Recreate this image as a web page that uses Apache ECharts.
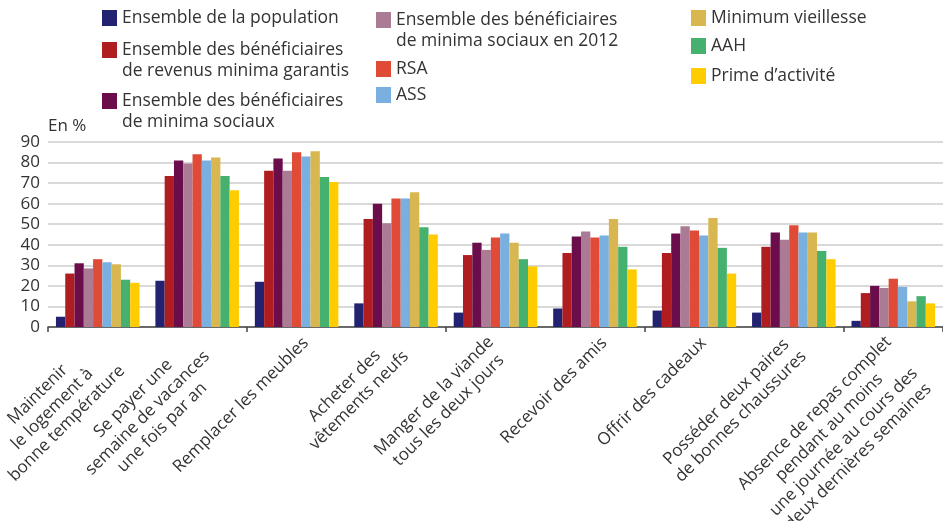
<!DOCTYPE html>
<html>
<head>
<meta charset="utf-8">
<script src="https://cdn.jsdelivr.net/npm/echarts@6/dist/echarts.min.js"></script>
<style>
  html, body { margin: 0; padding: 0; background: #fff; }
  #chart { width: 943px; height: 521px; }
</style>
</head>
<body>
<div id="chart"></div>
<script>
// categories (x axis)
const categories = [
  'Maintenir\nle logement à\nbonne température',
  'Se payer une\nsemaine de vacances\nune fois par an',
  'Remplacer les meubles',
  'Acheter des\nvêtements neufs',
  'Manger de la viande\ntous les deux jours',
  'Recevoir des amis',
  'Offrir des cadeaux',
  'Posséder deux paires\nde bonnes chaussures',
  'Absence de repas complet\npendant au moins\nune journée au cours des\ndeux dernières semaines'
]

const seriesNames = [
  'Ensemble de la population',
  'Ensemble des bénéficiaires de revenus minima garantis',
  'Ensemble des bénéficiaires de minima sociaux',
  'Ensemble des bénéficiaires de minima sociaux en 2012',
  'RSA',
  'ASS',
  'Minimum vieillesse',
  'AAH',
  'Prime d\u2019activité'
]

// values in %
const population  = [5, 22.5, 22, 11.5, 7, 9, 8, 7, 3]
const revenusMin  = [26, 73.5, 76, 52.5, 35, 36, 36, 39, 16.5]
const minimaSoc   = [31, 81, 82, 60, 41, 44, 45.5, 46, 20]
const minima2012  = [28.5, 79.5, 76, 50.5, 37.5, 46.5, 49, 42.5, 19]
const rsa         = [33, 84, 85, 62.5, 43.5, 43.5, 47, 49.5, 23.5]
const ass         = [31.5, 81, 83, 62.5, 45.5, 44.5, 44.5, 46, 19.5]
const minVieil    = [30.5, 82.5, 85.5, 65.5, 41, 52.5, 53, 46, 12.5]
const aah         = [23, 73.5, 73, 48.5, 33, 39, 38.5, 37, 15]
const prime       = [21.5, 66.5, 70.5, 45, 29.5, 28, 26, 33, 11.5]

const allValues = [population, revenusMin, minimaSoc, minima2012, rsa, ass, minVieil, aah, prime]

const colors = ['#232270', '#b01d21', '#6b0d4a', '#ab7a95', '#e04b37', '#79b0e0', '#d8b650', '#46b06e', '#ffcc00']

// legend: label text with line breaks, and where each item sits
const legendLabels = [
  'Ensemble de la population',
  'Ensemble des bénéficiaires\nde revenus minima garantis',
  'Ensemble des bénéficiaires\nde minima sociaux',
  'Ensemble des bénéficiaires\nde minima sociaux en 2012',
  'RSA',
  'ASS',
  'Minimum vieillesse',
  'AAH',
  'Prime d\u2019activité'
]
const legendPlace = [
  [102, 18], [102, 50], [102, 101],
  [376, 20], [376, 69], [376, 95],
  [691, 18], [691, 46], [691, 76]
]

const font = '"Open Sans", "Noto Sans", sans-serif'
const lineH = 21

let legends = seriesNames.map(function (name, i) {
  let lines = legendLabels[i].split('\n')
  let multi = lines.length > 1
  return {
    data: [name],
    left: legendPlace[i][0],
    top: legendPlace[i][1] - (multi ? lineH * 1.5 : lineH / 2),
    padding: 0,
    itemWidth: 15,
    itemHeight: 16,
    icon: 'rect',
    selectedMode: false,
    // an empty first line keeps the swatch level with the first text line
    formatter: function () {
      let txt = lines.map(function (l) { return '{t|' + l + '}' }).join('\n')
      return multi ? '{e|\u00a0}\n' + txt : txt
    },
    textStyle: {
      fontFamily: font,
      fontSize: 17.5,
      color: '#333',
      lineHeight: lineH,
      rich: {
        e: { fontFamily: font, fontSize: 17.5, lineHeight: lineH },
        t: { fontFamily: font, fontSize: 17.5, lineHeight: lineH, color: '#333' }
      }
    }
  }
})

let series = seriesNames.map(function (name, i) {
  return {
    name: name,
    type: 'bar',
    data: allValues[i],
    barGap: 0,
    barCategoryGap: '16%',
    itemStyle: {
      color: colors[i]
    }
  }
})

let option = {
  backgroundColor: '#fff',
  animation: false,
  legend: legends,
  grid: {
    left: 48,
    right: 0,
    top: 142,
    bottom: 194,
    outerBoundsMode: 'none',
    containLabel: false
  },
  xAxis: {
    type: 'category',
    data: categories,
    axisLine: { lineStyle: { color: '#444', width: 1.5 } },
    axisTick: { show: true, alignWithLabel: false, length: 5, lineStyle: { color: '#444', width: 1.5 } },
    // the slanted labels are drawn below, anchored on the axis positions
    axisLabel: { show: false }
  },
  yAxis: {
    type: 'value',
    min: 0,
    max: 90,
    interval: 10,
    axisLine: { show: false },
    axisTick: { show: false },
    axisLabel: { fontFamily: font, fontSize: 17, color: '#333', margin: 8 },
    splitLine: { lineStyle: { color: '#cccccc', width: 1.5 } }
  },
  series: series
}

let myChart = echarts.init(document.getElementById('chart'))
myChart.setOption(option)

// x labels: rotated 45deg, lines centred, top-right corner under each category
let graphics = [{
  type: 'text',
  left: 48,
  top: 118,
  style: { text: 'En %', fontFamily: font, fontSize: 17, fill: '#333' }
}]
categories.forEach(function (c) {
  let p = myChart.convertToPixel({ gridIndex: 0 }, [c, 0])
  let multi = c.indexOf('\n') >= 0
  graphics.push({
    type: 'text',
    x: p[0] + (multi ? -12 : 2),
    y: p[1] + (multi ? 5 : 6),
    rotation: Math.PI / 4,
    silent: true,
    style: {
      text: c.split('\n').map(function (l) { return '{c|' + l + '}' }).join('\n'),
      align: 'right',
      verticalAlign: 'top',
      rich: {
        c: { align: 'center', fontFamily: font, fontSize: 17, lineHeight: 20.5, fill: '#333' }
      }
    }
  })
})
myChart.setOption({ graphic: graphics })
</script>
</body>
</html>
